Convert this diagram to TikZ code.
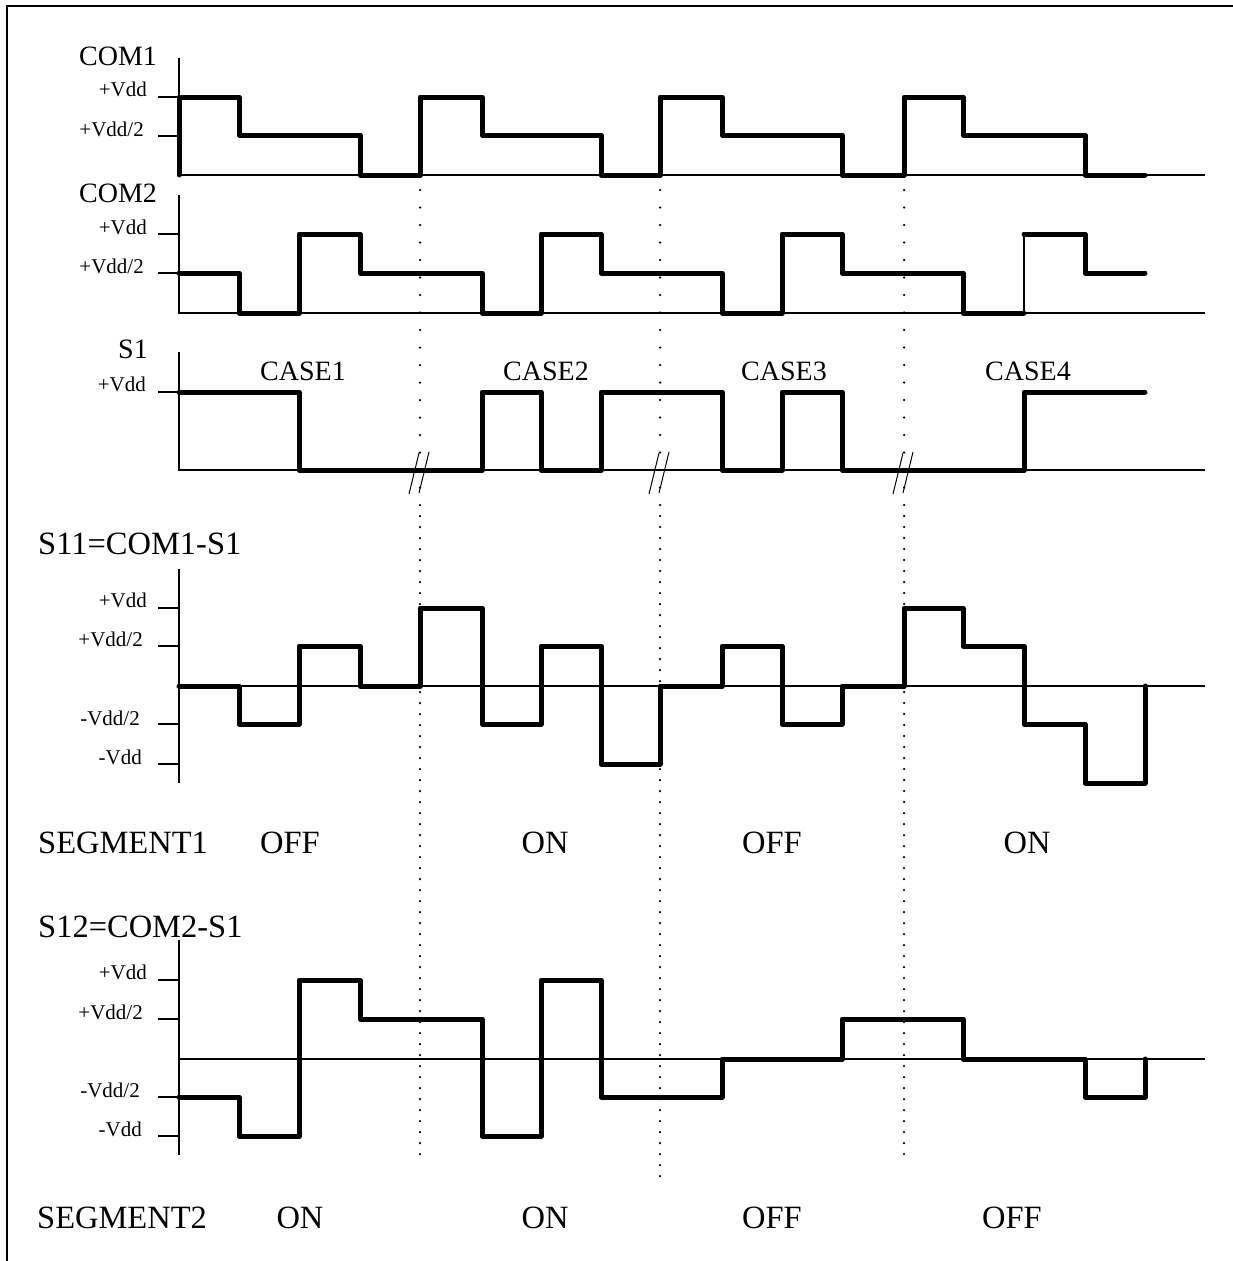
\documentclass[tikz,border=0pt]{standalone}
\usepackage{fontspec}
\setmainfont{Liberation Serif}
\begin{document}
\begin{tikzpicture}[x=1pt,y=-1pt,
  wave/.style={line width=5pt,line cap=round,line join=round},
  thinwave/.style={line width=1.2pt},
  axisline/.style={line width=1.2pt},
  tickline/.style={line width=1.2pt},
  frameline/.style={line width=2.2pt},
  dotline/.style={line width=2.5pt,line cap=round,dash pattern=on 0pt off 17.5pt},
  dotlinefine/.style={line width=2.5pt,line cap=round,dash pattern=on 0pt off 11pt},
  breakmark/.style={line width=1pt},
  ticklbl/.style={anchor=base east,inner sep=0pt,font=\fontsize{21}{24}\selectfont},
  siglbl/.style={anchor=base west,inner sep=0pt,font=\fontsize{28}{32}\selectfont},
  biglbl/.style={anchor=base west,inner sep=0pt,font=\fontsize{32.5}{36}\selectfont},
  caselbl/.style={anchor=base,inner sep=0pt,font=\fontsize{28}{32}\selectfont},
  statelbl/.style={anchor=base,inner sep=0pt,font=\fontsize{32.5}{36}\selectfont}]
\useasboundingbox (0,0) rectangle (1233,1261);
% frame (top and left only)
\draw[frameline] (7,1261) -- (7,6) -- (1233,6);

% ---------- dotted separators ----------
\foreach \dx/\yb in {420/1165, 660/1180, 904/1165} {
  \draw[dotline] (\dx,190) -- (\dx,500);
  \draw[dotlinefine] (\dx,505) -- (\dx,\yb);
}

% ---------- COM1 ----------
\node[siglbl] (lc1) at (79,65) {COM1};
\draw[axisline] (179,58) -- (179,175) -- (1205,175);
\draw[tickline] (158,97) -- (179,97);
\draw[tickline] (158,136) -- (179,136);
\node[ticklbl] (c1a) at (147,96) {+Vdd};
\node[ticklbl] (c1b) at (144,136) {+Vdd/2};
\draw[wave] (179,175) -- (179,97) -- (239,97) -- (239,135) -- (360,135) -- (360,175)
  -- (420,175) -- (420,97) -- (482,97) -- (482,135) -- (601,135) -- (601,175)
  -- (660,175) -- (660,97) -- (722,97) -- (722,135) -- (842,135) -- (842,175)
  -- (904,175) -- (904,97) -- (963,97) -- (963,135) -- (1085,135) -- (1085,175) -- (1145,175);

% ---------- COM2 ----------
\node[siglbl] (lc2) at (79,202) {COM2};
\draw[axisline] (179,195) -- (179,313) -- (1205,313);
\draw[tickline] (158,234) -- (179,234);
\draw[tickline] (158,273) -- (179,273);
\node[ticklbl] (c2a) at (147,234) {+Vdd};
\node[ticklbl] (c2b) at (144,273) {+Vdd/2};
\draw[wave] (179,273) -- (239,273) -- (239,313) -- (299,313) -- (299,234) -- (360,234) -- (360,273)
  -- (482,273) -- (482,313) -- (541,313) -- (541,234) -- (601,234) -- (601,273)
  -- (722,273) -- (722,313) -- (782,313) -- (782,234) -- (842,234) -- (842,273)
  -- (963,273) -- (963,313) -- (1024,313);
\draw[thinwave] (1024,313) -- (1024,234);
\draw[wave] (1024,234) -- (1085,234) -- (1085,273) -- (1145,273);

% ---------- S1 ----------
\node[siglbl] (ls1) at (118,358) {S1};
\draw[axisline] (179,352) -- (179,470) -- (1205,470);
\draw[tickline] (158,392) -- (179,392);
\node[ticklbl] (s1a) at (146,391) {+Vdd};
\draw[wave] (179,392) -- (299,392) -- (299,470) -- (482,470) -- (482,392) -- (541,392) -- (541,470)
  -- (601,470) -- (601,392) -- (722,392) -- (722,470) -- (782,470) -- (782,392) -- (842,392)
  -- (842,470) -- (1024,470) -- (1024,392) -- (1145,392);
\node[caselbl] (cs1) at (303,380) {CASE1};
\node[caselbl] (cs2) at (546,380) {CASE2};
\node[caselbl] (cs3) at (784,380) {CASE3};
\node[caselbl] (cs4) at (1028,380) {CASE4};
% break marks
\foreach \dx in {420,660,904} {
  \draw[breakmark] (\dx-11,494) -- (\dx-1,453);
  \draw[breakmark] (\dx-1,493) -- (\dx+9,452);
}

% ---------- S11 ----------
\node[biglbl] (ls11) at (38,554) {S11=COM1-S1};
\draw[axisline] (179,569) -- (179,783);
\draw[axisline] (179,686) -- (1205,686);
\draw[tickline] (158,608) -- (179,608);
\draw[tickline] (158,646) -- (179,646);
\draw[tickline] (158,724) -- (179,724);
\draw[tickline] (158,764) -- (179,764);
\node[ticklbl] (s11a) at (147,607) {+Vdd};
\node[ticklbl] (s11b) at (143,646) {+Vdd/2};
\node[ticklbl] (s11c) at (140,725) {-Vdd/2};
\node[ticklbl] (s11d) at (142,764) {-Vdd};
\draw[wave] (179,686) -- (239,686) -- (239,724) -- (299,724) -- (299,646) -- (360,646) -- (360,686)
  -- (420,686) -- (420,608) -- (482,608) -- (482,724) -- (541,724) -- (541,646) -- (601,646)
  -- (601,764) -- (660,764) -- (660,686) -- (722,686) -- (722,646) -- (782,646) -- (782,724)
  -- (842,724) -- (842,686) -- (904,686) -- (904,608) -- (963,608) -- (963,646) -- (1024,646)
  -- (1024,724) -- (1085,724) -- (1085,783) -- (1145,783) -- (1145,686);

% ---------- SEGMENT1 ----------
\node[biglbl] (seg1) at (38,853) {SEGMENT1};
\node[statelbl] (st11) at (290,853) {OFF};
\node[statelbl] (st12) at (545,853) {ON};
\node[statelbl] (st13) at (772,853) {OFF};
\node[statelbl] (st14) at (1027,853) {ON};

% ---------- S12 ----------
\node[biglbl] (ls12) at (38,937) {S12=COM2-S1};
\draw[axisline] (179,940) -- (179,1155);
\draw[axisline] (179,1059) -- (1205,1059);
\draw[tickline] (158,980) -- (179,980);
\draw[tickline] (158,1019) -- (179,1019);
\draw[tickline] (158,1097) -- (179,1097);
\draw[tickline] (158,1136) -- (179,1136);
\node[ticklbl] (s12a) at (147,979) {+Vdd};
\node[ticklbl] (s12b) at (143,1019) {+Vdd/2};
\node[ticklbl] (s12c) at (140,1097) {-Vdd/2};
\node[ticklbl] (s12d) at (142,1136) {-Vdd};
\draw[wave] (179,1097) -- (239,1097) -- (239,1136) -- (299,1136) -- (299,980) -- (360,980) -- (360,1019)
  -- (482,1019) -- (482,1136) -- (541,1136) -- (541,980) -- (601,980) -- (601,1097)
  -- (722,1097) -- (722,1059) -- (842,1059) -- (842,1019) -- (963,1019) -- (963,1059)
  -- (1085,1059) -- (1085,1097) -- (1145,1097) -- (1145,1059);

% ---------- SEGMENT2 ----------
\node[biglbl] (seg2) at (37,1228) {SEGMENT2};
\node[statelbl] (st21) at (300,1228) {ON};
\node[statelbl] (st22) at (545,1228) {ON};
\node[statelbl] (st23) at (772,1228) {OFF};
\node[statelbl] (st24) at (1012,1228) {OFF};
\end{tikzpicture}
\end{document}
